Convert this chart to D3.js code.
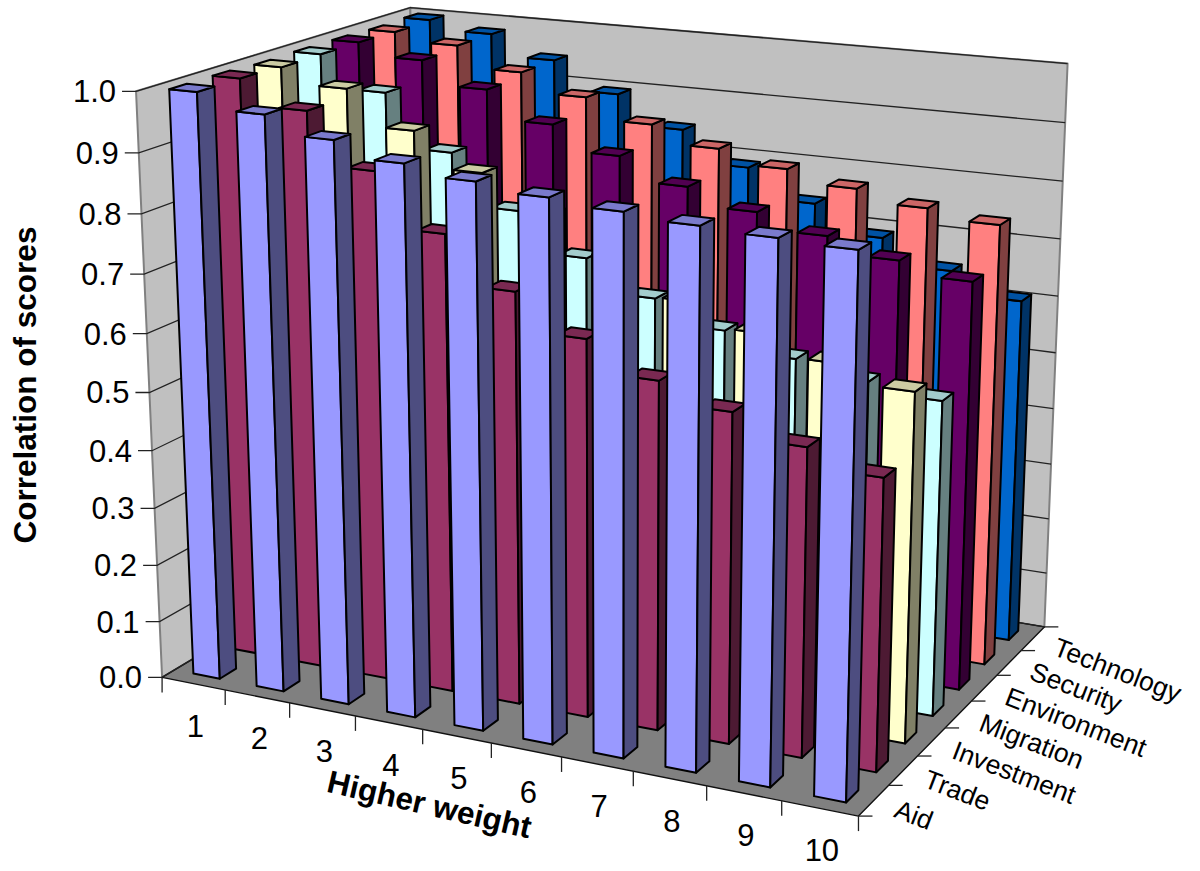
<!DOCTYPE html>
<html>
<head>
<meta charset="utf-8">
<script src="https://cdn.jsdelivr.net/npm/d3@7"></script>
<style>
  html, body { margin: 0; background: #fff; }
  svg { display: block; }
  text { font-family: "Liberation Sans", Arial, sans-serif; fill: #000; }
</style>
</head>
<body>
<div id="chart"></div>
<script>
const weights = ['1','2','3','4','5','6','7','8','9','10'];
const seriesNames = ['Aid','Trade','Investment','Migration','Environment','Security','Technology'];
const valueTicks = d3.range(0, 11).map(d => d / 10);
const colors = ['#9999FF','#993366','#FFFFCC','#CCFFFF','#660066','#FF8080','#0066CC'];

const aid = [1.0,.975,.946,.921,.905,.893,.884,.876,.871,.867];
const trade = [1.0,.958,.871,.781,.701,.639,.587,.553,.514,.483];
const investment = [.997,.972,.913,.855,.798,.741,.684,.647,.614,.585];
const migration = [.998,.943,.852,.765,.698,.644,.605,.573,.551,.536];
const environment = [.998,.977,.937,.888,.846,.806,.776,.749,.722,.701];
const security = [.996,.982,.945,.912,.876,.846,.823,.802,.782,.767];
const technology = [.998,.982,.945,.895,.843,.788,.737,.690,.646,.608];
const series = [aid, trade, investment, migration, environment, security, technology];

const width = 1200, height = 871;
const barW = 0.42, barD = 0.40;

// Calibration of the oblique 3D view: [cat, series, value] -> [px, py]
const anchors = [
  [0,0,0,162,680],[10,0,0,858,814],[10,7,0,1045,629],[0,7,0,420,520],
  [0,0,1,136,90],[0,7,1,410,9],[10,7,1,1068,63],[0,0,.5,150,393],[10,7,.5,1055,353]
];
function solveCamera(pts) {
  const rows = [];
  pts.forEach(([X,Y,Z,u,v]) => {
    rows.push([X,Y,Z,1,0,0,0,0,-u*X,-u*Y,-u*Z,u]);
    rows.push([0,0,0,0,X,Y,Z,1,-v*X,-v*Y,-v*Z,v]);
  });
  const n = 11;
  const M = d3.range(n).map(i => d3.range(n + 1).map(j => d3.sum(rows, r => r[i] * r[j === n ? 11 : j])));
  for (let c = 0; c < n; c++) {
    let p = c;
    for (let r = c + 1; r < n; r++) if (Math.abs(M[r][c]) > Math.abs(M[p][c])) p = r;
    [M[c], M[p]] = [M[p], M[c]];
    for (let r = 0; r < n; r++) {
      if (r === c) continue;
      const f = M[r][c] / M[c][c];
      for (let k = c; k <= n; k++) M[r][k] -= f * M[c][k];
    }
  }
  return d3.range(n).map(i => M[i][n] / M[i][i]);
}
const cam = solveCamera(anchors);
function project(X, Y, Z) {
  const w = cam[8]*X + cam[9]*Y + cam[10]*Z + 1;
  return [(cam[0]*X + cam[1]*Y + cam[2]*Z + cam[3]) / w, (cam[4]*X + cam[5]*Y + cam[6]*Z + cam[7]) / w];
}
// Band scales place the bars in floor units, value is already in wall units.
const xBand = d3.scaleBand().domain(weights).range([0, 10]);
const zBand = d3.scaleBand().domain(seriesNames).range([0, 7]);
const yVal = d3.scaleLinear().domain([0, 1]).range([0, 1]);

const svg = d3.select('#chart').append('svg').attr('width', width).attr('height', height);
const line = d3.line();
const poly = (pts, fill, stroke, sw) => svg.append('path')
  .attr('d', line(pts.map(p => project(...p))) + 'Z')
  .attr('fill', fill).attr('stroke', stroke).attr('stroke-width', sw).attr('stroke-linejoin', 'round');

// walls and floor
poly([[0,0,0],[0,0,1],[0,7,1],[0,7,0]], '#C0C0C0', '#808080', 2);
poly([[0,7,0],[0,7,1],[10,7,1],[10,7,0]], '#C0C0C0', '#808080', 2);
poly([[0,0,0],[10,0,0],[10,7,0],[0,7,0]], '#808080', '#111', 1.4);

// gridlines, ticks and labels
valueTicks.forEach(v => {
  const a = project(0,0,yVal(v)), b = project(0,7,yVal(v)), c = project(10,7,yVal(v));
  svg.append('path').attr('d', line([[a[0]-14,a[1]], a, b, c])).attr('fill','none').attr('stroke','#222').attr('stroke-width',1.3);
  svg.append('text').attr('x', a[0]-20).attr('y', a[1]+11).attr('text-anchor','end').attr('font-size',31).text(d3.format('.1f')(v));
});
d3.range(0,11).forEach(i => {
  const a = project(i,0,0);
  svg.append('line').attr('x1',a[0]).attr('y1',a[1]).attr('x2',a[0]).attr('y2',a[1]+15).attr('stroke','#222').attr('stroke-width',1.3);
});
d3.range(0,8).forEach(s => {
  const a = project(10,s,0);
  svg.append('line').attr('x1',a[0]).attr('y1',a[1]).attr('x2',a[0]+14).attr('y2',a[1]).attr('stroke','#222').attr('stroke-width',1.3);
});
weights.forEach(w => {
  const a = project(xBand(w) + xBand.bandwidth()/2,0,0);
  svg.append('text').attr('x',a[0]+2).attr('y',a[1]+53).attr('text-anchor','middle').attr('font-size',31).text(w);
});
seriesNames.forEach(n => {
  const a = project(10,zBand(n) + zBand.bandwidth()/2,0);
  svg.append('text').attr('transform',`translate(${a[0]+19},${a[1]+16}) rotate(21)`).attr('font-size',26.5).text(n);
});
svg.append('text').attr('transform','translate(36,385) rotate(-90)').attr('text-anchor','middle').attr('font-size',31.5).attr('font-weight','bold').text('Correlation of scores');
svg.append('text').attr('transform','translate(427,815) rotate(13)').attr('text-anchor','middle').attr('font-size',31.5).attr('font-weight','bold').text('Higher weight');

function shade(c, k) { const r = d3.rgb(c); return d3.rgb(r.r*k, r.g*k, r.b*k).formatHex(); }
// back row first, left to right, so nearer bars paint over the ones behind
for (let s = seriesNames.length - 1; s >= 0; s--) {
  series[s].forEach((val, i) => {
    const v = yVal(val);
    const x0 = xBand(weights[i]) + (xBand.bandwidth() - barW)/2 + .01, x1 = x0 + barW;
    const z0 = zBand(seriesNames[s]) + (zBand.bandwidth() - barD)/2, z1 = z0 + barD;
    poly([[x0,z0,0],[x1,z0,0],[x1,z0,v],[x0,z0,v]], colors[s], '#000', 2);
    poly([[x1,z0,0],[x1,z1,0],[x1,z1,v],[x1,z0,v]], shade(colors[s],.5), '#000', 2);
    poly([[x0,z0,v],[x1,z0,v],[x1,z1,v],[x0,z1,v]], shade(colors[s],.8), '#000', 2);
  });
}
</script>
</body>
</html>
